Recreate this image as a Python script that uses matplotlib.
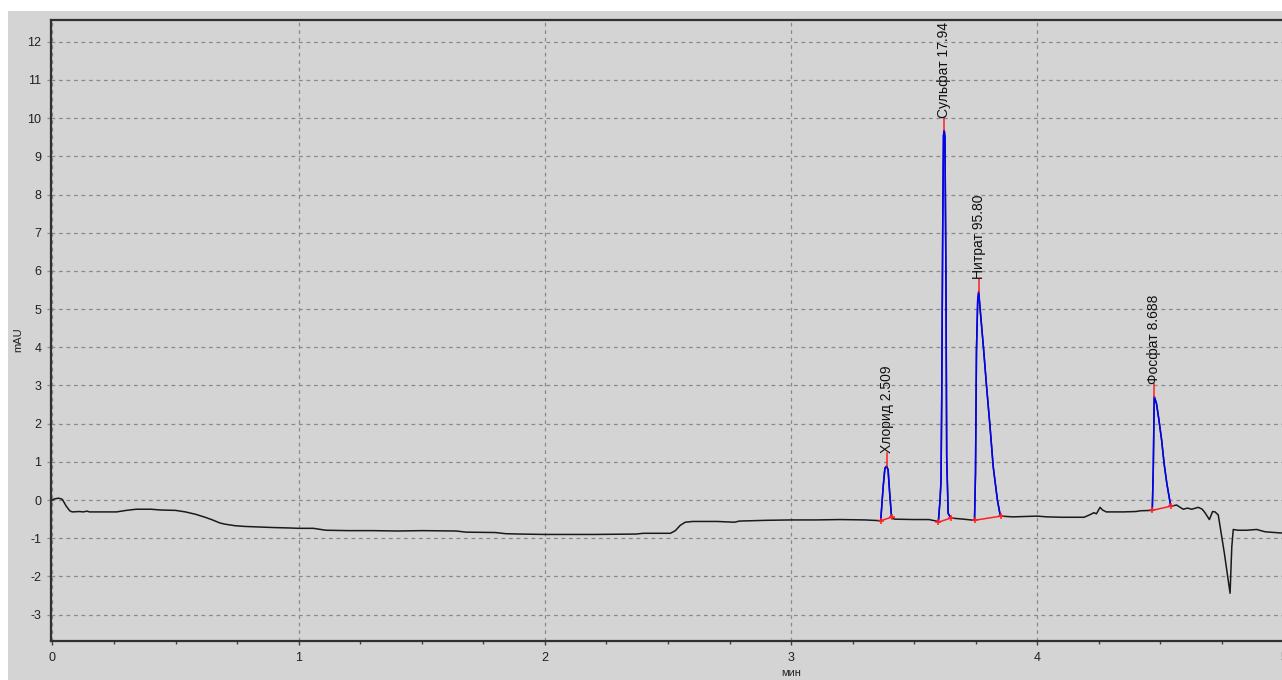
import matplotlib
matplotlib.use("Agg")
import matplotlib.pyplot as plt
from matplotlib.patches import Rectangle
from matplotlib.ticker import MultipleLocator
import numpy as np

plt.rcParams['font.family'] = ['Liberation Sans', 'DejaVu Sans']
plt.rcParams['axes.unicode_minus'] = False

# Chromatogram trace: retention time (min) and detector response (mAU)
time_min = [
    0.000, 0.008, 0.025, 0.040, 0.055, 0.070, 0.080, 0.110, 0.125, 0.140,
    0.150, 0.200, 0.260, 0.280, 0.300, 0.340, 0.400, 0.420, 0.440, 0.500,
    0.540, 0.580, 0.620, 0.650, 0.680, 0.700, 0.740, 0.780, 0.820, 0.860,
    0.900, 0.960, 1.000, 1.060, 1.110, 1.200, 1.300, 1.400, 1.500, 1.640,
    1.680, 1.800, 1.840, 1.900, 2.000, 2.200, 2.370, 2.400, 2.510, 2.530,
    2.550, 2.570, 2.600, 2.700, 2.770, 2.790, 2.900, 3.000, 3.100, 3.200,
    3.300, 3.364,
    3.374, 3.381, 3.388, 3.394, 3.400, 3.408,
    3.420, 3.500, 3.560, 3.590, 3.598,
    3.605, 3.609, 3.612, 3.616, 3.619, 3.622, 3.625, 3.629, 3.632, 3.638, 3.649,
    3.700, 3.745,
    3.749, 3.753, 3.758, 3.762, 3.767, 3.781, 3.794, 3.808, 3.821, 3.838, 3.848, 3.852,
    3.900, 3.950, 4.000, 4.040, 4.100, 4.150, 4.190, 4.215, 4.230, 4.240,
    4.255, 4.265, 4.280, 4.350, 4.400, 4.420, 4.467,
    4.471, 4.475, 4.484, 4.494, 4.505, 4.515, 4.526, 4.542,
    4.566, 4.580, 4.593, 4.610, 4.627, 4.654, 4.670, 4.681, 4.699, 4.712,
    4.722, 4.735, 4.760, 4.783, 4.790, 4.796, 4.815, 4.850, 4.891, 4.925,
    4.986, 5.000,
]
signal_mau = [
    0.00, 0.03, 0.05, 0.02, -0.15, -0.28, -0.31, -0.30, -0.31, -0.29,
    -0.31, -0.31, -0.31, -0.29, -0.27, -0.24, -0.24, -0.25, -0.26, -0.27,
    -0.31, -0.37, -0.45, -0.52, -0.60, -0.63, -0.67, -0.69, -0.70, -0.71,
    -0.72, -0.73, -0.74, -0.74, -0.79, -0.80, -0.80, -0.81, -0.80, -0.81,
    -0.84, -0.85, -0.88, -0.89, -0.90, -0.90, -0.89, -0.87, -0.87, -0.80,
    -0.66, -0.58, -0.56, -0.56, -0.58, -0.55, -0.53, -0.52, -0.52, -0.51,
    -0.52, -0.54,
    0.35, 0.83, 0.89, 0.79, 0.22, -0.45,
    -0.50, -0.51, -0.51, -0.55, -0.58,
    0.00, 0.52, 2.79, 7.25, 9.55, 9.68, 9.50, 5.76, 1.13, -0.35, -0.47,
    -0.50, -0.53,
    0.70, 3.93, 5.24, 5.46, 5.06, 4.02, 2.97, 1.92, 0.87, 0.00, -0.35, -0.42,
    -0.44, -0.43, -0.42, -0.44, -0.45, -0.45, -0.45, -0.38, -0.33, -0.36,
    -0.19, -0.26, -0.31, -0.31, -0.30, -0.28, -0.27,
    0.79, 2.71, 2.53, 2.10, 1.57, 0.96, 0.44, -0.16,
    -0.13, -0.19, -0.24, -0.21, -0.24, -0.19, -0.24, -0.33, -0.51, -0.30,
    -0.31, -0.39, -1.40, -2.44, -1.22, -0.77, -0.79, -0.79, -0.77, -0.83,
    -0.86, -0.86,
]

# Integrated peaks: name, reported amount, integration window (min)
peak_names = ["Хлорид", "Сульфат", "Нитрат", "Фосфат"]
peak_amounts = ["2.509", "17.94", "95.80", "8.688"]
peak_start = [3.364, 3.598, 3.745, 4.467]
peak_end = [3.408, 3.649, 3.852, 4.542]

x_ticks = [0, 1, 2, 3, 4, 5]
y_ticks = [-3, -2, -1, 0, 1, 2, 3, 4, 5, 6, 7, 8, 9, 10, 11, 12]

t = np.array(time_min)
s = np.array(signal_mau)

W, H = 1282, 680
fig = plt.figure(figsize=(W / 100, H / 100), dpi=100, facecolor="white")
panel_gray = "#d4d4d4"
fig.patches.append(Rectangle((8 / W, 0), 1, 1 - 11 / H, transform=fig.transFigure,
                             facecolor=panel_gray, edgecolor="none", zorder=-10))

left, right, bottom, top = 51, 1283.5, 641, 20
ax = fig.add_axes([left / W, 1 - bottom / H, (right - left) / W, (bottom - top) / H])
ax.set_zorder(1)
ax.set_facecolor(panel_gray)
ax.set_xlim(-0.006, 5.0)
ax.set_ylim(-3.69, 12.57)

ax.set_xticks(x_ticks)
ax.set_yticks(y_ticks)
ax.xaxis.set_minor_locator(MultipleLocator(0.25))
ax.grid(True, which="major", color="#8a8a8a", linestyle=(0, (3, 3)), linewidth=0.9)
ax.set_axisbelow(True)

ax.tick_params(axis="x", which="major", direction="out", length=3, width=1,
               color="#404040", labelsize=9, pad=5, labelcolor="#202020")
ax.tick_params(axis="x", which="minor", direction="out", length=2.5, width=1,
               color="#404040")
ax.tick_params(axis="y", which="major", direction="out", length=3, width=1,
               color="#909090", labelsize=9, pad=4, labelcolor="#202020")

for side in ("left", "top", "bottom"):
    ax.spines[side].set_color("#303030")
    ax.spines[side].set_linewidth(1.6)
ax.spines["right"].set_visible(False)

# Raw detector trace
ax.plot(t, s, color="#1a1a1a", linewidth=1.1, zorder=3)

label_rise = 0.33
for name, amount, t0, t1 in zip(peak_names, peak_amounts, peak_start, peak_end):
    sel = (t >= t0) & (t <= t1)
    tp, sp = t[sel], s[sel]
    ax.plot(tp, sp, color="#0000ff", linewidth=1.1, zorder=4)
    # Integration baseline with end markers
    ax.plot([tp[0], tp[-1]], [sp[0], sp[-1]], color="#ff2020", linewidth=1.1,
            marker="+", markersize=5, markeredgewidth=1.1, zorder=5)
    i = int(np.argmax(sp))
    ax.plot([tp[i], tp[i]], [sp[i], sp[i] + label_rise], color="#ff2020",
            linewidth=1.1, zorder=5)
    ax.text(tp[i], sp[i] + label_rise, f"{name} {amount}", rotation=90,
            ha="center", va="bottom", fontsize=10, color="#101010", zorder=6)

fig.text(791 / W, 1 - 673 / H, "мин", ha="center", va="center", fontsize=8,
         color="#202020")
fig.text(18 / W, 1 - 340 / H, "mAU", ha="center", va="center", rotation=90,
         fontsize=8, color="#202020")

fig.savefig("out.png", dpi=100, facecolor=fig.get_facecolor())
